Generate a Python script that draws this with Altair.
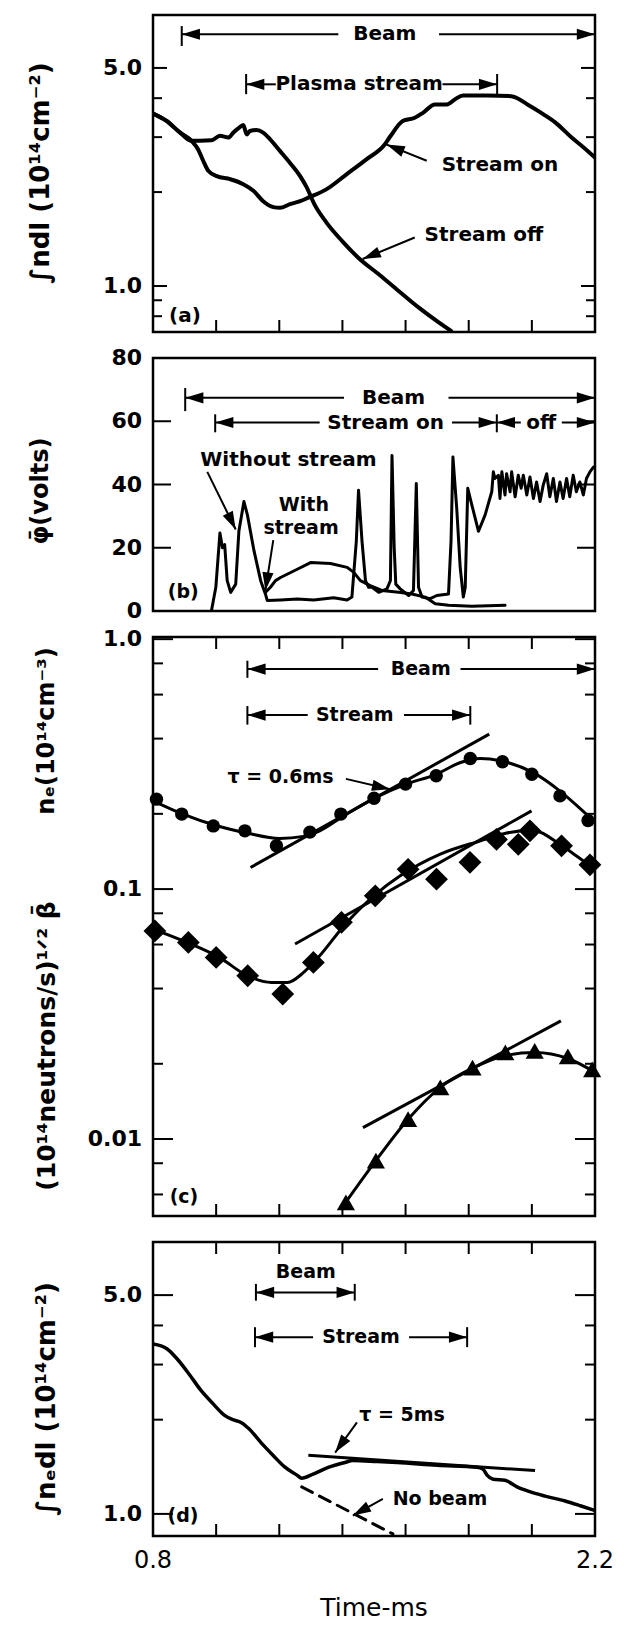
import altair as alt
import pandas as pd

FONT = "DejaVu Sans"
W = 442
HA, HB, HC, HD = 317, 253, 579, 294
XDOM = [0.8, 2.2]
X_TICKS = [1.0, 1.2, 1.4, 1.6, 1.8, 2.0]

# ---------------- panel (a) ----------------
A_YDOM = [0.712, 7.39]
a_on_t = [0.80, 0.843, 0.886, 0.922, 0.943, 0.959, 0.975, 1.002, 1.044, 1.086, 1.118, 1.149, 1.181, 1.202,
          1.234, 1.266, 1.292, 1.349, 1.413, 1.477, 1.534, 1.553, 1.591, 1.629, 1.655, 1.693, 1.731, 1.757,
          1.782, 1.858, 1.935, 1.986, 2.037, 2.075, 2.126, 2.164, 2.20]
a_on_v = [3.57, 3.38, 3.10, 2.92, 2.74, 2.52, 2.34, 2.25, 2.20, 2.12, 2.02, 1.87, 1.79, 1.78,
          1.83, 1.87, 1.92, 2.04, 2.28, 2.55, 2.84, 3.03, 3.38, 3.46, 3.59, 3.82, 3.82, 3.97,
          4.08, 4.08, 4.06, 3.82, 3.55, 3.34, 2.99, 2.78, 2.58]
a_off_t = [0.80, 0.843, 0.886, 0.922, 0.949, 0.986, 1.012, 1.039, 1.054, 1.070, 1.086, 1.097, 1.107, 1.128,
           1.149, 1.171, 1.202, 1.234, 1.266, 1.287, 1.311, 1.349, 1.400, 1.451, 1.515, 1.578, 1.642, 1.706, 1.744]
a_off_v = [3.57, 3.38, 3.10, 2.92, 2.92, 2.93, 3.03, 2.99, 3.10, 3.20, 3.28, 3.06, 3.14, 3.16,
           3.10, 2.95, 2.71, 2.48, 2.25, 2.07, 1.83, 1.60, 1.39, 1.23, 1.09, 0.964, 0.852, 0.763, 0.718]
a_seg_t1 = [0.891, 1.706, 0.891, 1.095, 1.717, 1.095, 1.890, 1.667, 1.629]
a_seg_t2 = [1.387, 2.200, 0.891, 1.189, 1.890, 1.095, 1.890, 1.540, 1.464]
a_seg_v1 = [6.41, 6.41, 5.88, 4.43, 4.43, 4.12, 4.12, 2.52, 1.43]
a_seg_v2 = [6.41, 6.41, 6.81, 4.43, 4.43, 4.78, 4.78, 2.84, 1.22]
a_head_t = [0.891, 2.20, 1.095, 1.890, 1.540, 1.464]
a_head_v = [6.41, 6.41, 4.43, 4.43, 2.84, 1.22]
a_head_a = [180, 0, 180, 0, 202.5, 157.4]
a_txt = ["Beam", "Plasma stream", "Stream on", "Stream off", "(a)"]
a_txt_t = [1.534, 1.453, 1.899, 1.848, 0.901]
a_txt_v = [6.41, 4.43, 2.45, 1.46, 0.80]
a_major = [1.0, 5.0]
a_minor = [0.8, 0.9, 2.0, 3.0, 4.0]
a_lab_v = [1.0, 5.0]
a_lab_s = ["1.0", "5.0"]

# ---------------- panel (b) ----------------
B_YDOM = [0, 80]
b_wo_t = [0.985, 0.999, 1.012, 1.020, 1.027, 1.035, 1.046, 1.062, 1.072, 1.088, 1.099, 1.120, 1.141, 1.156,
          1.162, 1.204, 1.257, 1.309, 1.372, 1.415, 1.430, 1.444, 1.451, 1.462, 1.473, 1.483, 1.494, 1.515,
          1.541, 1.552, 1.557, 1.564, 1.569, 1.583, 1.610, 1.625, 1.634, 1.641, 1.652, 1.678, 1.699, 1.736,
          1.744, 1.750, 1.762, 1.773, 1.783, 1.789, 1.797, 1.810, 1.831, 1.852, 1.873, 1.878,
          1.883, 1.894, 1.899, 1.905, 1.915, 1.920, 1.931, 1.936, 1.947, 1.957, 1.966, 1.973, 1.984, 1.994,
          2.005, 2.015, 2.026, 2.036, 2.047, 2.057, 2.068, 2.078, 2.089, 2.099, 2.110, 2.120, 2.131, 2.141,
          2.152, 2.163, 2.173, 2.184, 2.195]
b_wo_v = [0.0, 7.5, 24.7, 20.0, 21.0, 9.6, 5.9, 8.5, 25.2, 34.6, 30.4, 19.0, 9.6, 5.4,
          3.3, 3.5, 3.8, 3.5, 4.2, 3.5, 4.4, 22.1, 38.2, 22.1, 9.6, 7.5, 7.5, 5.9,
          7.0, 9.6, 49.2, 20.0, 8.5, 7.0, 4.9, 6.5, 40.3, 7.5, 4.4, 3.9, 4.9, 5.4,
          22.1, 48.7, 32.5, 13.8, 4.4, 7.5, 38.8, 33.5, 25.2, 30.4, 37.7, 44.0,
          41.9, 42.9, 35.6, 44.0, 36.7, 43.4, 37.7, 44.0, 36.1, 42.9, 38.8, 42.9, 36.7, 42.4,
          35.6, 40.8, 34.6, 39.8, 43.4, 36.1, 41.9, 34.6, 40.8, 35.6, 41.9, 36.1, 42.9, 37.7,
          40.8, 36.7, 41.9, 44.0, 45.5]
b_w_t = [1.156, 1.172, 1.188, 1.204, 1.257, 1.299, 1.362, 1.415, 1.436, 1.457, 1.488, 1.525, 1.578,
         1.620, 1.662, 1.694, 1.736, 1.810, 1.915]
b_w_v = [5.9, 7.5, 9.6, 10.6, 13.2, 15.3, 15.0, 13.8, 12.2, 9.6, 8.0, 6.5, 5.9,
         5.4, 4.4, 2.3, 1.8, 1.5, 1.8]
b_seg_t1 = [0.902, 1.736, 0.902, 0.997, 1.747, 0.997, 1.889, 1.889, 2.095, 0.972, 1.181]
b_seg_t2 = [1.405, 2.200, 0.902, 1.328, 1.889, 0.997, 1.889, 1.965, 2.200, 1.062, 1.156]
b_seg_v1 = [67.4, 67.4, 63.2, 59.6, 59.6, 56.5, 56.5, 59.6, 59.6, 44.0, 22.4]
b_seg_v2 = [67.4, 67.4, 70.5, 59.6, 59.6, 62.2, 62.2, 59.6, 59.6, 25.75, 6.5]
b_head_t = [0.902, 2.2, 0.997, 1.889, 1.889, 2.2, 1.062, 1.156]
b_head_v = [67.4, 67.4, 59.6, 59.6, 59.6, 59.6, 25.75, 6.5]
b_head_a = [180, 0, 180, 0, 180, 0, 64.1, 98.2]
b_txt = ["Beam", "Stream on", "off", "Without stream"]
b_txt_t = [1.562, 1.537, 2.03, 1.229]
b_txt_v = [67.4, 59.6, 59.6, 47.6]
b_txt2 = ["With", "stream", "(b)"]
b_txt2_t = [1.278, 1.269, 0.896]
b_txt2_v = [33.4, 26.2, 6.0]
b_major = [20, 40, 60]
b_lab_v = [0, 20, 40, 60, 80]
b_lab_s = ["0", "20", "40", "60", "80"]

# ---------------- panel (c) ----------------
C_YDOM = [0.00492, 1.02]
c_circ_t = [0.811, 0.891, 0.991, 1.091, 1.191, 1.297, 1.395, 1.500, 1.600, 1.697, 1.805, 1.907, 2.000, 2.089, 2.178]
c_circ_v = [0.229, 0.1995, 0.179, 0.171, 0.149, 0.169, 0.1995, 0.231, 0.263, 0.284, 0.333, 0.323, 0.288, 0.236, 0.188]
c_cfit_t = [0.8, 0.895, 0.997, 1.099, 1.201, 1.277, 1.328, 1.405, 1.506, 1.602, 1.697, 1.774, 1.837, 1.901, 2.003, 2.092, 2.155, 2.2]
c_cfit_v = [0.2256, 0.1995, 0.180, 0.1675, 0.1595, 0.1625, 0.171, 0.1965, 0.2326, 0.263, 0.288, 0.321, 0.333, 0.326, 0.293, 0.245, 0.209, 0.185]
c_dia_t = [0.806, 0.912, 1.000, 1.100, 1.211, 1.308, 1.397, 1.504, 1.608, 1.698, 1.804, 1.888, 1.957, 1.994, 2.094, 2.184]
c_dia_v = [0.068, 0.0612, 0.0533, 0.045, 0.038, 0.0509, 0.0736, 0.094, 0.120, 0.1096, 0.128, 0.158, 0.151, 0.171, 0.149, 0.125]
c_dfit_t = [0.8, 0.908, 1.01, 1.099, 1.175, 1.226, 1.277, 1.328, 1.405, 1.506, 1.583, 1.71, 1.837, 1.914, 2.0, 2.092, 2.137, 2.2]
c_dfit_v = [0.0692, 0.0612, 0.0533, 0.045, 0.0423, 0.0423, 0.0464, 0.0541, 0.0714, 0.0955, 0.113, 0.138, 0.156, 0.167, 0.172, 0.150, 0.137, 0.12]
c_tri_t = [1.411, 1.506, 1.608, 1.710, 1.812, 1.916, 2.009, 2.114, 2.191]
c_tri_v = [0.00558, 0.00819, 0.0120, 0.0161, 0.0193, 0.0222, 0.0225, 0.0214, 0.0190]
c_tfit_t = [1.411, 1.506, 1.608, 1.710, 1.812, 1.916, 2.009, 2.114, 2.2]
c_tfit_v = [0.0056, 0.0082, 0.0120, 0.0161, 0.0192, 0.0216, 0.0222, 0.0210, 0.0185]
c_seg_t1 = [1.099, 1.774, 1.099, 1.099, 1.595, 1.099, 1.805, 1.109, 1.250, 1.465, 1.411]
c_seg_t2 = [1.513, 2.200, 1.099, 1.290, 1.805, 1.099, 1.805, 1.865, 1.999, 2.092, 1.551]
c_seg_v1 = [0.759, 0.759, 0.70, 0.497, 0.497, 0.455, 0.455, 0.122, 0.0603, 0.0111, 0.276]
c_seg_v2 = [0.759, 0.759, 0.82, 0.497, 0.497, 0.54, 0.54, 0.417, 0.2055, 0.0297, 0.251]
c_seg_w = [2, 2, 2, 2, 2, 2, 2, 3, 3, 3, 2]
c_head_t = [1.099, 2.2, 1.099, 1.805, 1.551]
c_head_v = [0.759, 0.759, 0.497, 0.497, 0.251]
c_head_a = [180, 0, 180, 0, 12.7]
c_txt = ["Beam", "Stream", "τ = 0.6ms", "(c)"]
c_txt_t = [1.648, 1.439, 1.204, 0.898]
c_txt_v = [0.759, 0.497, 0.282, 0.00585]
c_major = [0.01, 0.1, 1.0]
c_minor = [0.006, 0.008, 0.02, 0.04, 0.06, 0.08, 0.2, 0.4, 0.6, 0.8]
c_lab_v = [0.01, 0.1, 1.0]
c_lab_s = ["0.01", "0.1", "1.0"]

# ---------------- panel (d) ----------------
D_YDOM = [0.85, 7.39]
d_t = [0.8, 0.844, 0.876, 0.914, 0.952, 0.99, 1.028, 1.053, 1.079, 1.104, 1.142, 1.180, 1.218, 1.256, 1.271,
       1.307, 1.357, 1.408, 1.433, 1.51, 1.573, 1.70, 1.826, 1.845, 1.858, 1.877, 1.915, 1.953, 1.991, 2.042,
       2.105, 2.156, 2.2]
d_v = [3.49, 3.37, 3.13, 2.80, 2.48, 2.25, 2.06, 2.00, 1.96, 1.87, 1.69, 1.54, 1.41, 1.33, 1.30,
       1.34, 1.41, 1.46, 1.48, 1.47, 1.46, 1.43, 1.41, 1.39, 1.33, 1.29, 1.28, 1.22, 1.18, 1.14,
       1.10, 1.06, 1.025]
d_nobeam_t = [1.271, 1.56]
d_nobeam_v = [1.22, 0.863]
d_seg_t1 = [1.126, 1.126, 1.439, 1.123, 1.611, 1.123, 1.795, 1.292, 1.446, 1.528]
d_seg_t2 = [1.439, 1.126, 1.439, 1.307, 1.795, 1.123, 1.795, 2.010, 1.377, 1.433]
d_seg_v1 = [5.1, 4.80, 4.80, 3.67, 3.67, 3.41, 3.41, 1.54, 1.96, 1.117]
d_seg_v2 = [5.1, 5.43, 5.43, 3.67, 3.67, 3.95, 3.95, 1.375, 1.57, 0.988]
d_seg_w = [2, 2, 2, 2, 2, 2, 2, 3, 2, 2]
d_head_t = [1.126, 1.439, 1.123, 1.795, 1.377, 1.433]
d_head_v = [5.1, 5.1, 3.67, 3.67, 1.57, 0.988]
d_head_a = [180, 0, 180, 0, 125.7, 151]
d_txt = ["Beam", "Stream", "τ = 5ms", "No beam", "(d)"]
d_txt_t = [1.284, 1.459, 1.589, 1.709, 0.895]
d_txt_v = [5.93, 3.67, 2.07, 1.117, 0.988]
d_major = [1.0, 5.0]
d_minor = [2.0, 3.0, 4.0]
d_lab_v = [1.0, 5.0]
d_lab_s = ["1.0", "5.0"]
x_lab_t = [0.8, 2.2]
x_lab_s = ["0.8", "2.2"]
X_TITLE = "Time-ms"

HEAD = "M0,0L-2.6,-0.8L-2.6,0.8Z"


def xenc(field="t"):
    return alt.X(f"{field}:Q", scale=alt.Scale(domain=XDOM, nice=False, zero=False), axis=None)


def yscale(dom, log):
    if log:
        return alt.Scale(type="log", domain=dom, nice=False)
    return alt.Scale(domain=dom, nice=False, zero=False)


def yenc(ysc, field="v"):
    return alt.Y(f"{field}:Q", scale=ysc, axis=None)


def curve(t, v, ysc, width, interp="monotone", dash=None):
    kw = dict(color="black", strokeWidth=width, interpolate=interp, clip=True, strokeCap="round", strokeJoin="round")
    if dash:
        kw["strokeDash"] = dash
    return alt.Chart(pd.DataFrame({"t": t, "v": v})).mark_line(**kw).encode(x=xenc(), y=yenc(ysc))


def markers(t, v, ysc, shape, size):
    return alt.Chart(pd.DataFrame({"t": t, "v": v})).mark_point(
        shape=shape, filled=True, size=size, color="black", opacity=1
    ).encode(x=xenc(), y=yenc(ysc))


def segments(t1, t2, v1, v2, ysc, w=None):
    df = pd.DataFrame({"t": t1, "t2": t2, "v": v1, "v2": v2, "w": w if w else [2] * len(t1)})
    return alt.Chart(df).mark_rule(color="black").encode(
        x=xenc(), x2="t2:Q", y=yenc(ysc), y2="v2:Q", strokeWidth=alt.StrokeWidth("w:Q", scale=None)
    )


def heads(t, v, a, ysc, size=196):
    df = pd.DataFrame({"t": t, "v": v, "a": a})
    return alt.Chart(df).mark_point(shape=HEAD, filled=True, size=size, color="black", opacity=1).encode(
        x=xenc(), y=yenc(ysc), angle=alt.Angle("a:Q", scale=None)
    )


def texts(s, t, v, ysc, size=20):
    df = pd.DataFrame({"s": s, "t": t, "v": v})
    return alt.Chart(df).mark_text(
        font=FONT, fontSize=size, fontWeight="bold", color="black", align="center", baseline="middle"
    ).encode(x=xenc(), y=yenc(ysc), text="s:N")


def ylabels(vals, labs, ysc):
    df = pd.DataFrame({"v": vals, "s": labs})
    return alt.Chart(df).mark_text(
        font=FONT, fontSize=22, fontWeight="bold", color="black", align="right", baseline="middle"
    ).encode(y=yenc(ysc), x=alt.value(-11), text="s:N")


def yticks(vals, ysc, L, right=True):
    df = pd.DataFrame({"v": vals})
    out = [alt.Chart(df).mark_rule(color="black", strokeWidth=2).encode(
        y=yenc(ysc), x=alt.value(0), x2=alt.value(L))]
    if right:
        out.append(alt.Chart(df).mark_rule(color="black", strokeWidth=2).encode(
            y=yenc(ysc), x=alt.value(W - L), x2=alt.value(W)))
    return out


def xticks(H, L, top=True, bottom=True):
    df = pd.DataFrame({"t": X_TICKS})
    out = []
    if bottom:
        out.append(alt.Chart(df).mark_rule(color="black", strokeWidth=2).encode(
            x=xenc(), y=alt.value(H), y2=alt.value(H - L)))
    if top:
        out.append(alt.Chart(df).mark_rule(color="black", strokeWidth=2).encode(
            x=xenc(), y=alt.value(0), y2=alt.value(L)))
    return out


def ytitle(s, x, y, size=24):
    return alt.Chart(pd.DataFrame({"s": [s]})).mark_text(
        font=FONT, fontSize=size, fontWeight="bold", color="black", angle=270, align="center", baseline="middle"
    ).encode(x=alt.value(x), y=alt.value(y), text="s:N")


# ---- build (a)
ysa = yscale(A_YDOM, True)
pa = alt.layer(
    *yticks(a_major, ysa, 14),
    *yticks(a_minor, ysa, 9),
    *xticks(HA, 12, top=False),
    ylabels(a_lab_v, a_lab_s, ysa),
    curve(a_on_t, a_on_v, ysa, 4),
    curve(a_off_t, a_off_v, ysa, 4),
    segments(a_seg_t1, a_seg_t2, a_seg_v1, a_seg_v2, ysa),
    heads(a_head_t, a_head_v, a_head_a, ysa),
    texts(a_txt, a_txt_t, a_txt_v, ysa),
    ytitle("∫ndl (10¹⁴cm⁻²)", -112, 158, size=26),
).properties(width=W, height=HA)

# ---- build (b)
ysb = yscale(B_YDOM, False)
pb = alt.layer(
    *yticks(b_major, ysb, 18),
    ylabels(b_lab_v, b_lab_s, ysb),
    curve(b_w_t, b_w_v, ysb, 3, interp="linear"),
    curve(b_wo_t, b_wo_v, ysb, 3, interp="linear"),
    segments(b_seg_t1, b_seg_t2, b_seg_v1, b_seg_v2, ysb),
    heads(b_head_t, b_head_v, b_head_a, ysb),
    texts(b_txt, b_txt_t, b_txt_v, ysb),
    texts(b_txt2, b_txt2_t, b_txt2_v, ysb, size=19),
    ytitle("φ̄(volts)", -112, 133),
).properties(width=W, height=HB)

# ---- build (c)
ysc_ = yscale(C_YDOM, True)
pc = alt.layer(
    *yticks(c_major, ysc_, 20),
    *yticks(c_minor, ysc_, 10),
    *xticks(HC, 12),
    ylabels(c_lab_v, c_lab_s, ysc_),
    curve(c_cfit_t, c_cfit_v, ysc_, 3),
    curve(c_dfit_t, c_dfit_v, ysc_, 3),
    curve(c_tfit_t, c_tfit_v, ysc_, 3),
    markers(c_circ_t, c_circ_v, ysc_, "circle", 180),
    markers(c_dia_t, c_dia_v, ysc_, "diamond", 520),
    markers(c_tri_t, c_tri_v, ysc_, "triangle-up", 330),
    segments(c_seg_t1, c_seg_t2, c_seg_v1, c_seg_v2, ysc_, c_seg_w),
    heads(c_head_t, c_head_v, c_head_a, ysc_),
    texts(c_txt, c_txt_t, c_txt_v, ysc_, size=19),
    ytitle("nₑ(10¹⁴cm⁻³)", -106, 94),
    ytitle("(10¹⁴neutrons/s)¹ᐟ² β̄", -106, 409, size=25),
).properties(width=W, height=HC)

# ---- build (d)
ysd = yscale(D_YDOM, True)
xlab = alt.Chart(pd.DataFrame({"t": x_lab_t, "s": x_lab_s})).mark_text(
    font=FONT, fontSize=24, color="black", align="center", baseline="middle"
).encode(x=xenc(), y=alt.value(HD + 25), text="s:N")
xtitle = alt.Chart(pd.DataFrame({"s": [X_TITLE]})).mark_text(
    font=FONT, fontSize=25, color="black", align="center", baseline="middle"
).encode(x=alt.value(221), y=alt.value(HD + 72), text="s:N")
pd_ = alt.layer(
    *yticks(d_major, ysd, 20),
    *yticks(d_minor, ysd, 10),
    *xticks(HD, 12),
    ylabels(d_lab_v, d_lab_s, ysd),
    xlab,
    xtitle,
    curve(d_t, d_v, ysd, 3.5),
    curve(d_nobeam_t, d_nobeam_v, ysd, 3, interp="linear", dash=[12, 8]),
    segments(d_seg_t1, d_seg_t2, d_seg_v1, d_seg_v2, ysd, d_seg_w),
    heads(d_head_t, d_head_v, d_head_a, ysd),
    texts(d_txt, d_txt_t, d_txt_v, ysd, size=19),
    ytitle("∫nₑdl (10¹⁴cm⁻²)", -106, 157, size=26),
).properties(width=W, height=HD)

chart = alt.vconcat(pa, pb, pc, pd_, spacing=26, bounds="flush").properties(
    padding={"left": 26, "top": 13, "right": 4, "bottom": 4}
).configure_view(stroke="black", strokeWidth=2.5)

chart.save("out.html", embed_options={"renderer": "svg", "actions": False})
